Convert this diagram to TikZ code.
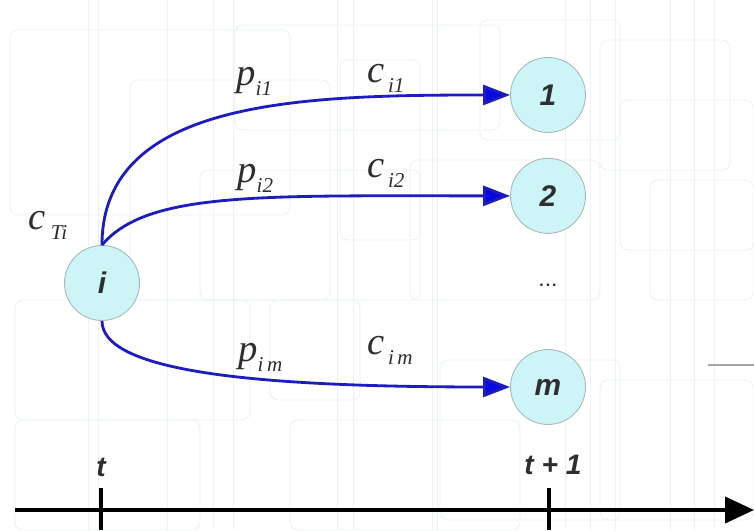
\documentclass[tikz,border=0pt]{standalone}
\usepackage{fontspec}
\setmainfont{Liberation Serif}
\setsansfont{Liberation Sans}
\usepackage{tikz}
\usetikzlibrary{arrows.meta,positioning}
\usepackage{xcolor}
\definecolor{NodeCyan}{HTML}{CDF5F8}
\definecolor{NodeBorder}{HTML}{A6B8BA}
\definecolor{ArcBlue}{HTML}{1C1CC0}
\definecolor{TipBlue}{HTML}{0808E0}
\definecolor{TextGray}{HTML}{2E2E2E}
\definecolor{GridBlue}{HTML}{EAF2F6}

\newcommand{\sublbl}[2]{\textit{#1}\raisebox{-5.5pt}{\fontsize{12}{12}\selectfont\textit{#2}}}

\begin{document}
\begin{tikzpicture}[
    state/.style={circle, draw=NodeBorder, line width=0.5pt, fill=NodeCyan, minimum size=1.5cm, inner sep=0pt,
      font=\sffamily\bfseries\itshape\fontsize{17}{20}\selectfont, text=TextGray},
    cost/.style={anchor=base west, inner sep=0pt, font=\fontsize{22}{24}\selectfont, text=TextGray},
    tlabel/.style={anchor=base, inner sep=0pt, font=\sffamily\bfseries\itshape\fontsize{16}{18}\selectfont, text=TextGray},
    arc/.style={-{Triangle[length=0.54cm, width=0.4cm, fill=TipBlue]}, draw=ArcBlue, line width=1.6pt},
    axis/.style={-{Triangle[length=0.58cm, width=0.52cm]}, line width=2.3pt},
    grid/.style={draw=GridBlue, line width=0.5pt, rounded corners=0.16cm}
  ]
    \useasboundingbox (0,0) rectangle (15.08,10.6);
    \fill[white] (0,0) rectangle (15.08,10.6);

    % Background pattern
    \foreach \x in {1.76,1.96,3.34,4.26,4.66,6.74,7.06,8.64,8.74,11.3,11.8,12.3,13.4,13.88,14.28}
      \draw[draw=GridBlue, line width=0.5pt] (\x,0) -- (\x,10.6);
    \foreach \a/\b/\c/\d in {0.2/6.3/5.8/10.0, 2.6/4.6/6.6/9.0, 4.7/8.0/10.0/10.1, 6.8/5.8/8.4/9.4,
        8.2/4.6/12.0/7.4, 9.6/7.8/12.4/10.2, 12.0/7.2/14.6/9.8, 12.4/5.6/15.08/8.6, 0.3/2.2/5.0/4.6,
        4.0/4.6/8.4/7.2, 5.4/2.6/7.2/4.6, 8.8/0.2/12.4/3.4, 12.0/0.2/15.08/3.0, 0.3/0.0/4.0/2.2,
        5.8/0.0/10.4/2.2, 13.0/4.6/15.08/7.0}
      \draw[grid] (\a,\b) rectangle (\c,\d);
    \draw[draw=gray!70, line width=0.8pt] (14.16,3.3) -- (15.08,3.3);

    % States
    \node[state] (i) at (2.04,4.94) {i};
    \node[state] (n1) at (10.96,8.70) {1};
    \node[state, below=0.5cm of n1] (n2) {2};
    \node[state] (m) at (10.96,2.86) {m};
    \node[font=\sffamily\fontsize{13}{14}\selectfont, text=TextGray] (dots) at (10.96,4.9) {...};

    % Transitions
    \draw[arc] (i.north) to[out=90, in=180, out distance=2.9cm, in distance=4.2cm] (n1.west);
    \draw[arc] (i.north) to[out=50, in=180, out distance=1.4cm, in distance=5cm] (n2.west);
    \draw[arc] (i.south) to[out=-90, in=180, out distance=1cm, in distance=5.2cm] (m.west);

    % Labels
    \node[cost] (p1) at (4.72,8.88) {\sublbl{p}{i1}};
    \node[cost] (c1) at (7.34,8.94) {\sublbl{c\kern2pt}{i1}};
    \node[cost] (p2) at (4.74,6.94) {\sublbl{p}{i2}};
    \node[cost] (c2) at (7.34,7.04) {\sublbl{c\kern2pt}{i2}};
    \node[cost] (pm) at (4.76,3.36) {\sublbl{p}{i\,m}};
    \node[cost] (cm) at (7.34,3.5) {\sublbl{c\kern2pt}{i\,m}};
    \node[cost] (cT) at (0.56,6.0) {\sublbl{c\kern3pt}{Ti}};

    % Time axis
    \coordinate (ax0) at (0.3,0.4);
    \coordinate (ax1) at (15.08,0.4);
    \draw[axis] (ax0) -- (ax1);
    \coordinate (tk0) at (2.02,0.84);
    \coordinate (tk1) at (10.98,0.84);
    \draw[line width=2.3pt] (tk0) -- (tk0 |- 0,0);
    \draw[line width=2.3pt] (tk1) -- (tk1 |- 0,0);
    \node[tlabel] (lt0) at (2.02,1.06) {t};
    \node[tlabel] (lt1) at (11.06,1.1) {t + 1};

  \end{tikzpicture}
\end{document}
